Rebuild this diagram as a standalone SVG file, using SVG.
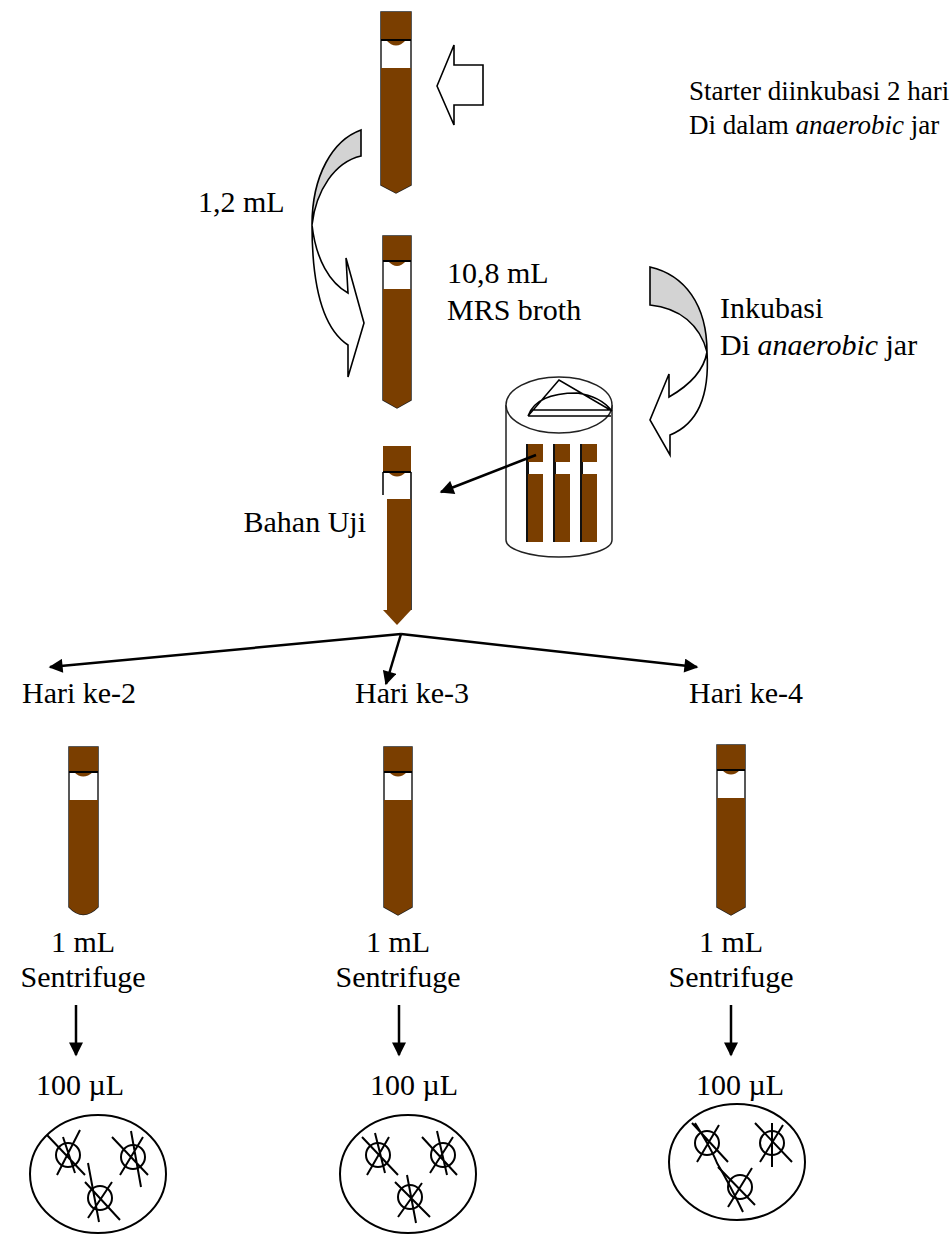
<svg xmlns="http://www.w3.org/2000/svg" width="951" height="1234" viewBox="0 0 951 1234">
  <defs>
    <style>
      .t { font-family: "Liberation Serif", "Times New Roman", serif; font-size: 30px; fill: #000; }
      .ts { font-size: 27px; }
      .tm { text-anchor: middle; }
      .te { text-anchor: end; }
      .it { font-style: italic; }
      .glass { fill: #fff; stroke: #222; stroke-width: 1.5; }
      .brown { fill: #7a3e00; }
      .capline { stroke: #000; stroke-width: 2; fill: none; }
      .hollow { fill: #fff; stroke: #000; stroke-width: 1.6; stroke-linejoin: miter; }
      .back { fill: #d3d3d3; stroke: #000; stroke-width: 1.6; }
      .line { stroke: #000; stroke-width: 2.5; fill: none; }
      .thin { stroke: #000; stroke-width: 1.5; fill: none; }
      .dish { fill: #fff; stroke: #000; stroke-width: 2; }
      .col { fill: none; stroke: #000; stroke-width: 2; }
    </style>
    <marker id="head" viewBox="0 0 10 10" refX="9" refY="5" markerWidth="16" markerHeight="14" markerUnits="userSpaceOnUse" orient="auto">
      <path d="M0,0 L10,5 L0,10 Z" fill="#000"/>
    </marker>
  </defs>

  <!-- starter tube -->
  <g id="tube-starter">
    <path class="glass" d="M381,12 H411 V185 L396,193 L381,185 Z"/>
    <rect class="brown" x="381" y="12" width="30" height="28"/>
    <path class="brown" d="M386,40 Q396,51 406,40 Z"/>
    <line class="capline" x1="381" y1="40" x2="411" y2="40"/>
    <path class="brown" d="M381,68 H411 V185 L396,193 L381,185 Z"/>
  </g>

  <!-- MRS broth tube -->
  <g id="tube-mrs">
    <path class="glass" d="M383,236 H411 V400 L397,408 L383,400 Z"/>
    <rect class="brown" x="383" y="236" width="28" height="25"/>
    <path class="brown" d="M388,261 Q397,271 406,261 Z"/>
    <line class="capline" x1="383" y1="261" x2="411" y2="261"/>
    <path class="brown" d="M383,289 H411 V400 L397,408 L383,400 Z"/>
  </g>

  <!-- test material tube -->
  <g id="tube-bahan-uji">
    <path class="thin" d="M383,472 V495 M411,472 V610"/>
    <rect class="brown" x="383" y="446" width="28" height="26"/>
    <path class="brown" d="M388,472 Q397,481 406,472 Z"/>
    <line class="capline" x1="383" y1="472" x2="411" y2="472"/>
    <rect class="brown" x="387" y="499" width="24" height="111"/>
    <path class="brown" d="M383,610 H411 L397,625 Z"/>
  </g>

  <!-- anaerobic jar with three tubes -->
  <g id="anaerobic-jar">
    <path class="glass" d="M506,405 V540 A53,17 0 0 0 612,540 V405"/>
    <ellipse class="glass" cx="559" cy="405" rx="53" ry="28"/>
    <path class="thin" d="M528,416 L559,380 L612,411 M528,416 Q536,393 577,393 Q600,396 612,411 M531,410 H611 M528,416 H611" stroke-width="1.2"/>
    <g>
      <rect x="526" y="444" width="3" height="98" fill="#111"/>
      <rect class="brown" x="528" y="444" width="15" height="18"/>
      <rect x="532" y="462" width="7" height="4" fill="#fff"/>
      <rect class="brown" x="528" y="474" width="15" height="68"/>
      <rect x="553" y="444" width="3" height="98" fill="#111"/>
      <rect class="brown" x="555" y="444" width="15" height="18"/>
      <rect class="brown" x="555" y="474" width="15" height="68"/>
      <rect x="580" y="444" width="3" height="98" fill="#111"/>
      <rect class="brown" x="582" y="444" width="15" height="18"/>
      <rect class="brown" x="582" y="474" width="15" height="68"/>
    </g>
  </g>

  <!-- day-2 tube -->
  <g id="tube-day2">
    <path class="glass" d="M69,747 H98 V907 Q83,922 69,907 Z"/>
    <rect class="brown" x="69" y="747" width="29" height="25"/>
    <path class="brown" d="M74,772 Q83,781 93,772 Z"/>
    <line class="capline" x1="69" y1="772" x2="98" y2="772"/>
    <path class="brown" d="M69,800 H98 V907 Q83,922 69,907 Z"/>
  </g>

  <!-- day-3 tube -->
  <g id="tube-day3">
    <path class="glass" d="M384,747 H412 V907 L398,915 L384,907 Z"/>
    <rect class="brown" x="384" y="747" width="28" height="25"/>
    <path class="brown" d="M389,772 Q398,781 407,772 Z"/>
    <line class="capline" x1="384" y1="772" x2="412" y2="772"/>
    <path class="brown" d="M384,800 H412 V907 L398,915 L384,907 Z"/>
  </g>

  <!-- day-4 tube -->
  <g id="tube-day4">
    <path class="glass" d="M717,745 H745 V907 L731,915 L717,907 Z"/>
    <rect class="brown" x="717" y="745" width="28" height="25"/>
    <path class="brown" d="M722,770 Q731,779 740,770 Z"/>
    <line class="capline" x1="717" y1="770" x2="745" y2="770"/>
    <path class="brown" d="M717,798 H745 V907 L731,915 L717,907 Z"/>
  </g>

  <!-- petri dishes -->
  <g id="dish-day2">
    <ellipse class="dish" cx="98" cy="1174" rx="68" ry="59"/>
    <circle class="col" cx="68" cy="1155" r="12"/>
    <path class="col" d="M47,1135 L85,1175 M80,1130 L57,1175 M63,1137 L75,1173"/>
    <circle class="col" cx="133" cy="1157" r="12"/>
    <path class="col" d="M112,1137 L148,1175 M143,1137 L120,1175 M131,1131 L141,1187"/>
    <circle class="col" cx="100" cy="1198" r="12"/>
    <path class="col" d="M88,1163 L99,1222 M85,1182 L120,1220 M112,1182 L88,1218"/>
  </g>
  <g id="dish-day3">
    <ellipse class="dish" cx="408" cy="1174" rx="68" ry="59"/>
    <circle class="col" cx="378" cy="1155" r="12"/>
    <path class="col" d="M362,1137 L398,1175 M389,1137 L367,1175 M375,1133 L385,1173"/>
    <circle class="col" cx="443" cy="1155" r="12"/>
    <path class="col" d="M422,1137 L457,1175 M453,1137 L430,1173 M437,1131 L447,1175"/>
    <circle class="col" cx="410" cy="1197" r="12"/>
    <path class="col" d="M407,1175 L416,1223 M395,1182 L430,1217 M422,1183 L398,1217"/>
  </g>
  <g id="dish-day4">
    <ellipse class="dish" cx="737" cy="1162" rx="68" ry="58"/>
    <circle class="col" cx="707" cy="1143" r="12"/>
    <path class="col" d="M692,1123 L728,1162 M719,1125 L697,1162 M695,1123 Q712,1150 717,1163 Q730,1185 743,1212"/>
    <circle class="col" cx="772" cy="1143" r="12"/>
    <path class="col" d="M755,1123 L792,1162 M783,1125 L760,1162 M772,1123 L772,1167"/>
    <circle class="col" cx="740" cy="1187" r="12"/>
    <path class="col" d="M728,1207 L752,1168 M718,1167 L755,1205"/>
  </g>

  <!-- connectors -->
  <g id="connectors">
    <polygon class="hollow" points="437,86 454,45 454,65 483,65 483,105 454,105 454,125"/>
    <path class="back" d="M361,130 C333,140 312,175 312,225 C316,190 335,162 361,156 Z"/>
    <path class="hollow" d="M312,225 C312,290 325,330 348,345 L348,377 L364,323 L346,258 L348,293 C330,283 316,260 312,225 Z"/>
    <path class="back" d="M650,267 C685,275 707,305 707,352 C700,325 680,308 650,305 Z"/>
    <path class="hollow" d="M707,352 C710,400 695,425 670,435 L670,455 L650,420 L669,374 L669,397 C690,385 704,370 707,352 Z"/>
    <line class="line" x1="536" y1="455" x2="441" y2="492" marker-end="url(#head)" stroke-width="2"/>
    <line class="line" x1="401" y1="634" x2="50" y2="667" marker-end="url(#head)"/>
    <line class="line" x1="401" y1="634" x2="386" y2="684" marker-end="url(#head)"/>
    <line class="line" x1="401" y1="634" x2="697" y2="667" marker-end="url(#head)"/>
    <line class="line" x1="76" y1="1005" x2="76" y2="1055" marker-end="url(#head)" stroke-width="2"/>
    <line class="line" x1="399" y1="1005" x2="399" y2="1055" marker-end="url(#head)" stroke-width="2"/>
    <line class="line" x1="731" y1="1005" x2="731" y2="1055" marker-end="url(#head)" stroke-width="2"/>
  </g>

  <!-- labels -->
  <g id="labels">
    <text class="t ts" x="689" y="100">Starter diinkubasi 2 hari</text>
    <text class="t ts" x="689" y="134">Di dalam <tspan class="it">anaerobic</tspan> jar</text>
    <text class="t" x="198" y="212">1,2 mL</text>
    <text class="t" x="447" y="283">10,8 mL</text>
    <text class="t" x="447" y="320">MRS broth</text>
    <text class="t" x="720" y="318">Inkubasi</text>
    <text class="t" x="720" y="355">Di <tspan class="it">anaerobic</tspan> jar</text>
    <text class="t te" x="366" y="532">Bahan Uji</text>
    <text class="t" x="22" y="703">Hari ke-2</text>
    <text class="t" x="355" y="703">Hari ke-3</text>
    <text class="t" x="689" y="703">Hari ke-4</text>
    <text class="t tm" x="83" y="952">1 mL</text>
    <text class="t tm" x="83" y="987">Sentrifuge</text>
    <text class="t tm" x="398" y="952">1 mL</text>
    <text class="t tm" x="398" y="987">Sentrifuge</text>
    <text class="t tm" x="731" y="952">1 mL</text>
    <text class="t tm" x="731" y="987">Sentrifuge</text>
    <text class="t" x="36" y="1095">100 µL</text>
    <text class="t" x="370" y="1095">100 µL</text>
    <text class="t" x="696" y="1095">100 µL</text>
  </g>
</svg>
